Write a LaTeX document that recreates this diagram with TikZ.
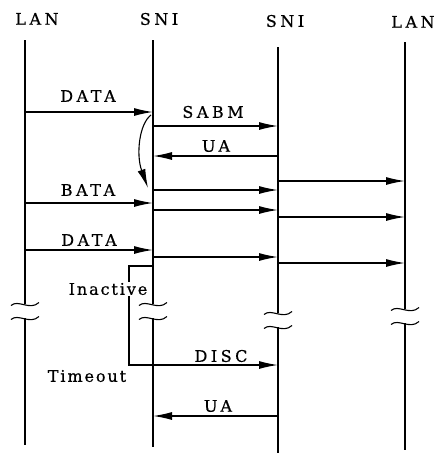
\documentclass[tikz,border=0pt]{standalone}
\usepackage{fontspec}
\setmainfont{DejaVu Serif}[FakeBold=0.6]
\usetikzlibrary{arrows.meta}
\begin{document}
\begin{tikzpicture}[x=1pt,y=-1pt,
  lbl/.style={font=\fontsize{16}{18}\selectfont\addfontfeatures{LetterSpace=22}, inner sep=1pt},
  lbm/.style={font=\fontsize{16}{18}\selectfont\addfontfeatures{LetterSpace=12}, inner sep=1pt},
  life/.style={line width=1.2pt},
  msg/.style={line width=1.3pt, -{Latex[length=19pt,width=8pt]}},
  brk/.pic={
    \draw[line width=1.1pt] (-14,1.5) .. controls (-7,-5) and (5,7) .. (14,-1.5);
    \draw[line width=1.1pt] (-14,15.5) .. controls (-7,9) and (5,21) .. (14,12.5);
  }]
\useasboundingbox (0,0) rectangle (445,455);

% headers
\node[lbl] (tL1) at (37,19) {LAN};
\node[lbl] (tS1) at (159,19) {SNI};
\node[lbl] (tS2) at (285,21) {SNI};
\node[lbl] (tL2) at (413,22) {LAN};

% lifeline coordinates
\coordinate (L1top) at (25,40);  \coordinate (L1a) at (25,304);  \coordinate (L1b) at (25,318);  \coordinate (L1bot) at (25,445);
\coordinate (S1top) at (153,40); \coordinate (S1a) at (153,304); \coordinate (S1b) at (153,318); \coordinate (S1bot) at (153,447);
\coordinate (S2top) at (278,47); \coordinate (S2a) at (278,313); \coordinate (S2b) at (278,327); \coordinate (S2bot) at (278,453);
\coordinate (L2top) at (405,42); \coordinate (L2a) at (405,309); \coordinate (L2b) at (405,323); \coordinate (L2bot) at (405,450);

\draw[life] (L1top) -- (L1a); \draw[life] (L1b) -- (L1bot);
\draw[life] (S1top) -- (S1a); \draw[life] (S1b) -- (S1bot);
\draw[life] (S2top) -- (S2a); \draw[life] (S2b) -- (S2bot);
\draw[life] (L2top) -- (L2a); \draw[life] (L2b) -- (L2bot);
\pic at (L1a) {brk};
\pic at (S1a) {brk};
\pic at (S2a) {brk};
\pic at (L2a) {brk};

% messages
\draw[msg] (L1top |- 0,112) -- (S1top |- 0,112);
\node[lbl] (m1) at (88,96) {DATA};
\draw[msg] (S1top |- 0,126) -- (S2top |- 0,126);
\node[lbl] (m2) at (213,112) {SABM};
\draw[msg] (S2top |- 0,156) -- (S1top |- 0,156);
\node[lbl] (m3) at (216,146) {UA};

\coordinate (c1) at (151,115);
\coordinate (c2) at (148,188);
\draw[msg, line width=1.1pt] (c1) .. controls (139,124) and (136,155) .. (c2);

\draw[msg] (S2top |- 0,181) -- (L2top |- 0,181);
\draw[msg] (S1top |- 0,190) -- (S2top |- 0,190);
\draw[msg] (L1top |- 0,203) -- (S1top |- 0,203);
\node[lbl] (m4) at (88,190) {BATA};
\draw[msg] (S1top |- 0,210) -- (S2top |- 0,210);
\draw[msg] (S2top |- 0,217) -- (L2top |- 0,217);

\draw[msg] (L1top |- 0,250) -- (S1top |- 0,250);
\node[lbl] (m5) at (89,240) {DATA};
\draw[msg] (S1top |- 0,257) -- (S2top |- 0,257);
\draw[msg] (S2top |- 0,263) -- (L2top |- 0,263);

% inactivity timer
\coordinate (ib) at (129,266);
\coordinate (tb) at (129,365);
\draw[msg] (S1top |- ib) -- (ib) -- (tb) -- (S2top |- tb);
\node[lbm, fill=white] (in) at (108,289) {Inactive};
\node[lbl] (m6) at (221,356) {DISC};
\node[lbm] (to) at (87,376) {Timeout};

\draw[msg] (S2top |- 0,416) -- (S1top |- 0,416);
\node[lbl] (m7) at (218,406) {UA};
\end{tikzpicture}
\end{document}
